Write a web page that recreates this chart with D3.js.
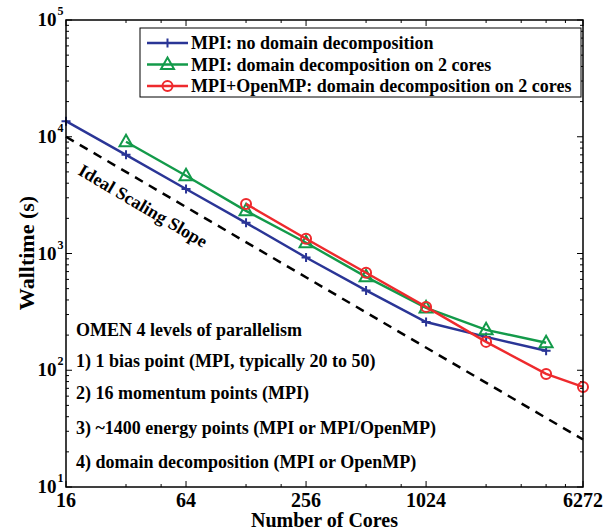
<!DOCTYPE html>
<html>
<head>
<meta charset="utf-8">
<script src="https://cdn.jsdelivr.net/npm/d3@7"></script>
<style>
  body { margin: 0; background: #fff; }
  svg { display: block; font-family: "Liberation Serif", "Times New Roman", serif; font-weight: bold; }
</style>
</head>
<body>
<svg id="chart" width="613" height="531"></svg>
<script>
// cores on x, walltime in seconds on y
const coresNoDD = [16, 32, 64, 128, 256, 512, 1024, 2048, 4096]
const timeNoDD = [13600, 7000, 3570, 1830, 925, 483, 259, 193, 147]

const coresDD = [32, 64, 128, 256, 512, 1024, 2048, 4096]
const timeDD = [9060, 4630, 2320, 1235, 631, 342, 222, 172]

const coresOmp = [128, 256, 512, 1024, 2048, 4096, 6272]
const timeOmp = [2660, 1336, 683, 349, 175, 93, 72]

const idealCores = [16, 6272]
const idealTime = [10000, 10000 * 16 / 6272]

const xTickValues = [16, 64, 256, 1024, 6272]
const xMinorValues = [32, 48, 128, 192, 512, 768, 2048, 3072, 4096, 5120]
const yExponents = [1, 2, 3, 4, 5]

const legendLabels = [
  "MPI: no domain decomposition",
  "MPI: domain decomposition on 2 cores",
  "MPI+OpenMP: domain decomposition on 2 cores"
]

const noteLines = [
  "OMEN 4 levels of parallelism",
  "1) 1 bias point (MPI, typically 20 to 50)",
  "2) 16 momentum points (MPI)",
  "3) ~1400 energy points (MPI or MPI/OpenMP)",
  "4) domain decomposition (MPI or OpenMP)"
]

const plotL = 66, plotR = 583, plotT = 20, plotB = 487

const x = d3.scaleLog().base(2).domain([16, 6272]).range([plotL, plotR])
const y = d3.scaleLog().domain([10, 1e5]).range([plotB, plotT])

const svg = d3.select("#chart")

// minor y ticks 2..9 for every decade
const yMinor = []
yExponents.slice(0, -1).forEach(e => {
  for (let k = 2; k <= 9; k++) yMinor.push(k * Math.pow(10, e))
})
const yMajor = yExponents.map(e => Math.pow(10, e))

const ticks = svg.append("g").attr("stroke", "#000").attr("stroke-width", 1)

// y ticks, left and right, pointing inwards
yMajor.concat(yMinor).forEach(v => {
  const len = yMajor.includes(v) ? 6 : 3
  ticks.append("line").attr("x1", plotL).attr("x2", plotL + len).attr("y1", y(v)).attr("y2", y(v))
  ticks.append("line").attr("x1", plotR).attr("x2", plotR - len).attr("y1", y(v)).attr("y2", y(v))
})

// x ticks, bottom and top
xTickValues.concat(xMinorValues).forEach(v => {
  const len = xTickValues.includes(v) ? 6 : 3
  ticks.append("line").attr("x1", x(v)).attr("x2", x(v)).attr("y1", plotB).attr("y2", plotB - len)
  ticks.append("line").attr("x1", x(v)).attr("x2", x(v)).attr("y1", plotT).attr("y2", plotT + len)
})

// ideal slope
const line = d3.line().x(d => x(d[0])).y(d => y(d[1]))

svg.append("path")
  .attr("d", line(d3.zip(idealCores, idealTime)))
  .attr("fill", "none")
  .attr("stroke", "#000")
  .attr("stroke-width", 2.5)
  .attr("stroke-dasharray", "9,7")

svg.append("text")
  .attr("transform", "translate(77,174) rotate(30.5)")
  .attr("font-size", 18)
  .text("Ideal Scaling Slope")

const series = [
  { xs: coresNoDD, ys: timeNoDD, color: "#2a3596", marker: "plus" },
  { xs: coresDD, ys: timeDD, color: "#139a4a", marker: "triangle" },
  { xs: coresOmp, ys: timeOmp, color: "#ee2a2d", marker: "circle" }
]

function drawMarker(g, kind, color) {
  if (kind === "plus") {
    g.append("path").attr("d", "M-4.5,0H4.5M0,-4.5V4.5")
      .attr("stroke", color).attr("stroke-width", 2).attr("fill", "none")
  } else if (kind === "triangle") {
    g.append("path").attr("d", "M0,-7L6.5,4.5L-6.5,4.5Z")
      .attr("stroke", color).attr("stroke-width", 2).attr("fill", "none")
  } else {
    g.append("circle").attr("r", 5)
      .attr("stroke", color).attr("stroke-width", 2).attr("fill", "none")
  }
}

series.forEach(s => {
  const pts = d3.zip(s.xs, s.ys)
  svg.append("path")
    .attr("d", line(pts))
    .attr("fill", "none")
    .attr("stroke", s.color)
    .attr("stroke-width", 2.4)
  pts.forEach(p => {
    const g = svg.append("g").attr("transform", `translate(${x(p[0])},${y(p[1])})`)
    drawMarker(g, s.marker, s.color)
  })
})

// frame
svg.append("rect")
  .attr("x", plotL).attr("y", plotT)
  .attr("width", plotR - plotL).attr("height", plotB - plotT)
  .attr("fill", "none").attr("stroke", "#000").attr("stroke-width", 1.5)

// tick labels
svg.selectAll(".xlab")
  .data(xTickValues)
  .enter().append("text")
  .attr("x", d => x(d))
  .attr("y", 507)
  .attr("text-anchor", "middle")
  .attr("font-size", 20)
  .text(d => d)

yExponents.forEach(e => {
  const yy = y(Math.pow(10, e))
  svg.append("text")
    .attr("x", 56.5).attr("y", yy + 6)
    .attr("text-anchor", "end")
    .attr("font-size", 19)
    .text("10")
  svg.append("text")
    .attr("x", 57.5).attr("y", yy - 5)
    .attr("font-size", 12)
    .text(e)
})

svg.append("text")
  .attr("x", (plotL + plotR) / 2).attr("y", 527)
  .attr("text-anchor", "middle")
  .attr("font-size", 20)
  .text("Number of Cores")

svg.append("text")
  .attr("transform", "translate(34,253) rotate(-90)")
  .attr("text-anchor", "middle")
  .attr("font-size", 22)
  .text("Walltime (s)")

// annotation block
const noteY = [336, 366.5, 399, 434, 468]
noteLines.forEach((t, i) => {
  svg.append("text")
    .attr("x", 76).attr("y", noteY[i])
    .attr("font-size", 18)
    .text(t)
})

// legend
const legend = svg.append("g")
legend.append("rect")
  .attr("x", 140).attr("y", 28)
  .attr("width", 441).attr("height", 69)
  .attr("fill", "#fff").attr("stroke", "#000").attr("stroke-width", 1)

series.forEach((s, i) => {
  const ly = 43 + i * 21.5
  legend.append("line")
    .attr("x1", 147).attr("x2", 188).attr("y1", ly).attr("y2", ly)
    .attr("stroke", s.color).attr("stroke-width", 2.4)
  drawMarker(legend.append("g").attr("transform", `translate(167.5,${ly})`), s.marker, s.color)
  legend.append("text")
    .attr("x", 191).attr("y", ly + 6)
    .attr("font-size", 18)
    .text(legendLabels[i])
})
</script>
</body>
</html>
